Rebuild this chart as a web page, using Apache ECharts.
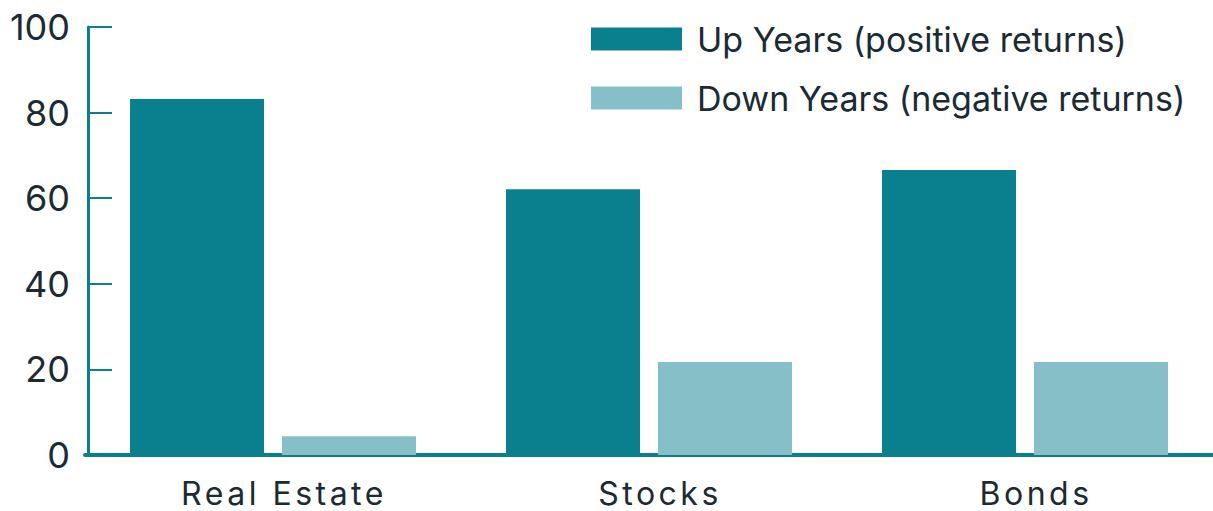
<!DOCTYPE html>
<html>
<head>
<meta charset="utf-8">
<script src="https://cdn.jsdelivr.net/npm/echarts@6/dist/echarts.min.js"></script>
<style>
html,body{margin:0;padding:0;background:#fff;}
#chart{width:1213px;height:511px;}
</style>
</head>
<body>
<div id="chart"></div>
<script>
const categories = ['Real Estate', 'Stocks', 'Bonds'];
const upYears = [83.2, 62.1, 66.6];
const downYears = [4.4, 21.7, 21.7];
const seriesNames = ['Up Years (positive returns)', 'Down Years (negative returns)'];
const yTicks = [0, 20, 40, 60, 80, 100];

const teal = '#0a808f';
const lightTeal = '#86bfc7';
const textColor = '#1b2a33';
const font = 'Inter';

const chart = echarts.init(document.getElementById('chart'), null, {renderer: 'svg'});
chart.setOption({
  animation: false,
  backgroundColor: '#fff',
  textStyle: {fontFamily: font},
  grid: {left: 85, right: -1, top: 27, bottom: 56, containLabel: false},
  legend: {
    orient: 'vertical',
    left: 591,
    top: 21,
    padding: 0,
    itemWidth: 91,
    itemHeight: 23,
    itemGap: 23,
    icon: 'rect',
    data: seriesNames,
    textStyle: {fontFamily: font, fontSize: 34, color: textColor, lineHeight: 36, padding: [0, 0, 0, 10]}
  },
  xAxis: {
    type: 'category',
    data: categories,
    axisLine: {lineStyle: {color: teal, width: 4}},
    axisTick: {show: false},
    axisLabel: {fontFamily: font, fontSize: 32, color: textColor, margin: 22, padding: [0, 0, 0, 22]}
  },
  yAxis: {
    type: 'value',
    min: yTicks[0],
    max: yTicks[yTicks.length - 1],
    interval: 20,
    offset: -3,
    axisLine: {show: true, lineStyle: {color: teal, width: 3}},
    axisTick: {show: true, inside: true, length: 24, lineStyle: {color: teal, width: 2}},
    splitLine: {show: false},
    axisLabel: {fontFamily: font, fontSize: 36, color: textColor, margin: 18}
  },
  series: [
    {name: seriesNames[0], type: 'bar', data: upYears, barWidth: 134, barGap: '13.4%', itemStyle: {color: teal}},
    {name: seriesNames[1], type: 'bar', data: downYears, barWidth: 134, itemStyle: {color: lightTeal}}
  ]
});

function spaceCategoryLabels() {
  const texts = chart.getDom().querySelectorAll('text');
  texts.forEach(function (t) {
    if (categories.indexOf(t.textContent) >= 0) {
      t.setAttribute('letter-spacing', '3.5px');
      t.style.letterSpacing = '3.5px';
    }
  });
}
chart.on('finished', spaceCategoryLabels);
spaceCategoryLabels();
setTimeout(spaceCategoryLabels, 50);
</script>
</body>
</html>
